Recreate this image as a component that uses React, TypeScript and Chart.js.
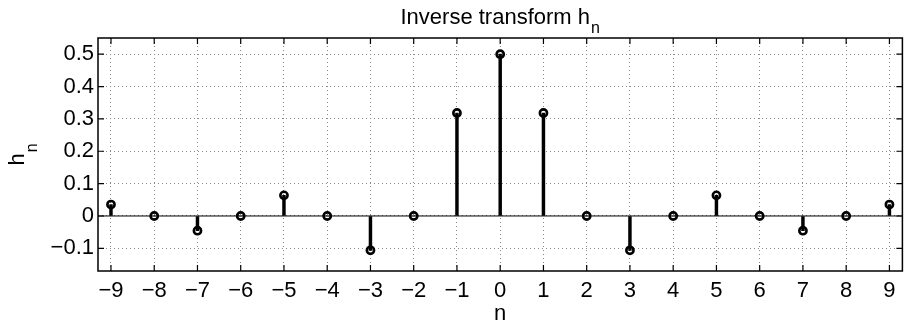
import React, { useEffect, useRef } from "react";
import { Chart, registerables } from "chart.js";

Chart.register(...registerables);

const nValues = [-9, -8, -7, -6, -5, -4, -3, -2, -1, 0, 1, 2, 3, 4, 5, 6, 7, 8, 9];
const hValues = [0.0354, 0, -0.0455, 0, 0.0637, 0, -0.1061, 0, 0.3183, 0.5, 0.3183, 0, -0.1061, 0, 0.0637, 0, -0.0455, 0, 0.0354];
const xTicks = [-9, -8, -7, -6, -5, -4, -3, -2, -1, 0, 1, 2, 3, 4, 5, 6, 7, 8, 9];
const yTicks = [-0.1, 0, 0.1, 0.2, 0.3, 0.4, 0.5];
const titleMain = "Inverse transform h";
const titleSub = "n";
const xLabel = "n";
const yLabelMain = "h";
const yLabelSub = "n";

const FONT = "'Liberation Sans', Arial, Helvetica, sans-serif";

function fmt(v: number): string {
  const r = Math.round(v * 10) / 10;
  const s = Math.abs(r).toString();
  return r < 0 ? "\u2212" + s : s;
}

const decorPlugin = {
  id: "decor",
  beforeDatasetsDraw(chart: any) {
    const { ctx, chartArea: a, scales } = chart;
    const y0 = scales.y.getPixelForValue(0);
    ctx.save();
    ctx.strokeStyle = "#000";
    ctx.lineWidth = 1;
    ctx.beginPath();
    ctx.moveTo(a.left, y0);
    ctx.lineTo(a.right, y0);
    ctx.stroke();
    ctx.restore();
  },
  afterDraw(chart: any) {
    const { ctx, chartArea: a, scales } = chart;
    ctx.save();
    // box
    ctx.strokeStyle = "#000";
    ctx.lineWidth = 1.5;
    ctx.strokeRect(a.left, a.top, a.right - a.left, a.bottom - a.top);
    // inward ticks
    const tl = 6;
    ctx.lineWidth = 1.2;
    ctx.beginPath();
    xTicks.forEach((v) => {
      const px = scales.x.getPixelForValue(v);
      ctx.moveTo(px, a.bottom);
      ctx.lineTo(px, a.bottom - tl);
      ctx.moveTo(px, a.top);
      ctx.lineTo(px, a.top + tl);
    });
    yTicks.forEach((v) => {
      const py = scales.y.getPixelForValue(v);
      ctx.moveTo(a.left, py);
      ctx.lineTo(a.left + tl, py);
      ctx.moveTo(a.right, py);
      ctx.lineTo(a.right - tl, py);
    });
    ctx.stroke();

    ctx.fillStyle = "#000";
    ctx.textBaseline = "alphabetic";
    // title
    const cx = (a.left + a.right) / 2;
    ctx.font = `22px ${FONT}`;
    const wMain = ctx.measureText(titleMain).width;
    ctx.font = `16px ${FONT}`;
    const wSub = ctx.measureText(titleSub).width;
    const startX = cx - (wMain + wSub + 1) / 2;
    ctx.font = `22px ${FONT}`;
    ctx.textAlign = "left";
    ctx.fillText(titleMain, startX, 24);
    ctx.font = `16px ${FONT}`;
    ctx.fillText(titleSub, startX + wMain + 1, 33);

    // x label
    ctx.font = `22px ${FONT}`;
    ctx.textAlign = "center";
    ctx.fillText(xLabel, cx, 320);

    // y label
    const cy = (a.top + a.bottom) / 2;
    ctx.translate(24, cy);
    ctx.rotate(-Math.PI / 2);
    ctx.font = `22px ${FONT}`;
    const wh = ctx.measureText(yLabelMain).width;
    ctx.font = `16px ${FONT}`;
    const wn = ctx.measureText(yLabelSub).width;
    const sx = -(wh + wn + 1) / 2;
    ctx.textAlign = "left";
    ctx.font = `22px ${FONT}`;
    ctx.fillText(yLabelMain, sx, 0);
    ctx.font = `16px ${FONT}`;
    ctx.fillText(yLabelSub, sx + wh + 1, 13);
    ctx.restore();
  },
};

export default function App() {
  const ref = useRef<HTMLCanvasElement | null>(null);
  useEffect(() => {
    if (!ref.current) return;
    const pts = nValues.map((n, i) => ({ x: n, y: hValues[i] }));
    const chart = new Chart(ref.current, {
      type: "bar",
      data: {
        datasets: [
          {
            type: "line",
            data: pts,
            showLine: false,
            pointStyle: "circle",
            pointRadius: 3.6,
            pointBorderWidth: 2.6,
            pointBorderColor: "#000",
            pointBackgroundColor: "rgba(0,0,0,0)",
            order: 0,
          } as any,
          {
            type: "bar",
            data: pts,
            backgroundColor: "#000",
            borderWidth: 0,
            barThickness: 2.8,
            order: 1,
          } as any,
        ],
      },
      options: {
        responsive: false,
        animation: false,
        events: [],
        layout: { padding: { top: 38, right: 6, left: 0, bottom: 0 } },
        plugins: { legend: { display: false }, tooltip: { enabled: false }, title: { display: false } },
        scales: {
          x: {
            type: "linear",
            min: -9.3,
            max: 9.3,
            offset: false,
            afterBuildTicks: (s: any) => {
              s.ticks = xTicks.map((v) => ({ value: v }));
            },
            afterFit: (s: any) => {
              s.height = 54;
            },
            grid: { color: "#8a8a8a", lineWidth: 1, drawTicks: false, offset: false },
            border: { display: false, dash: [1, 3] },
            ticks: {
              color: "#000",
              font: { family: FONT, size: 22 },
              padding: 7,
              maxRotation: 0,
              autoSkip: false,
              callback: (v: any) => fmt(Number(v)),
            },
          },
          y: {
            type: "linear",
            min: -0.17,
            max: 0.55,
            afterBuildTicks: (s: any) => {
              s.ticks = yTicks.map((v) => ({ value: v }));
            },
            afterFit: (s: any) => {
              s.width = 98;
            },
            grid: { color: "#8a8a8a", lineWidth: 1, drawTicks: false },
            border: { display: false, dash: [1, 3] },
            ticks: {
              color: "#000",
              font: { family: FONT, size: 22 },
              padding: 4,
              autoSkip: false,
              callback: (v: any) => fmt(Number(v)),
            },
          },
        },
      },
      plugins: [decorPlugin],
    });
    return () => chart.destroy();
  }, []);
  return (
    <div style={{ position: "absolute", left: 0, top: 0, width: 909, height: 325, background: "#fff" }}>
      <canvas ref={ref} width={909} height={325} style={{ display: "block" }} />
    </div>
  );
}
